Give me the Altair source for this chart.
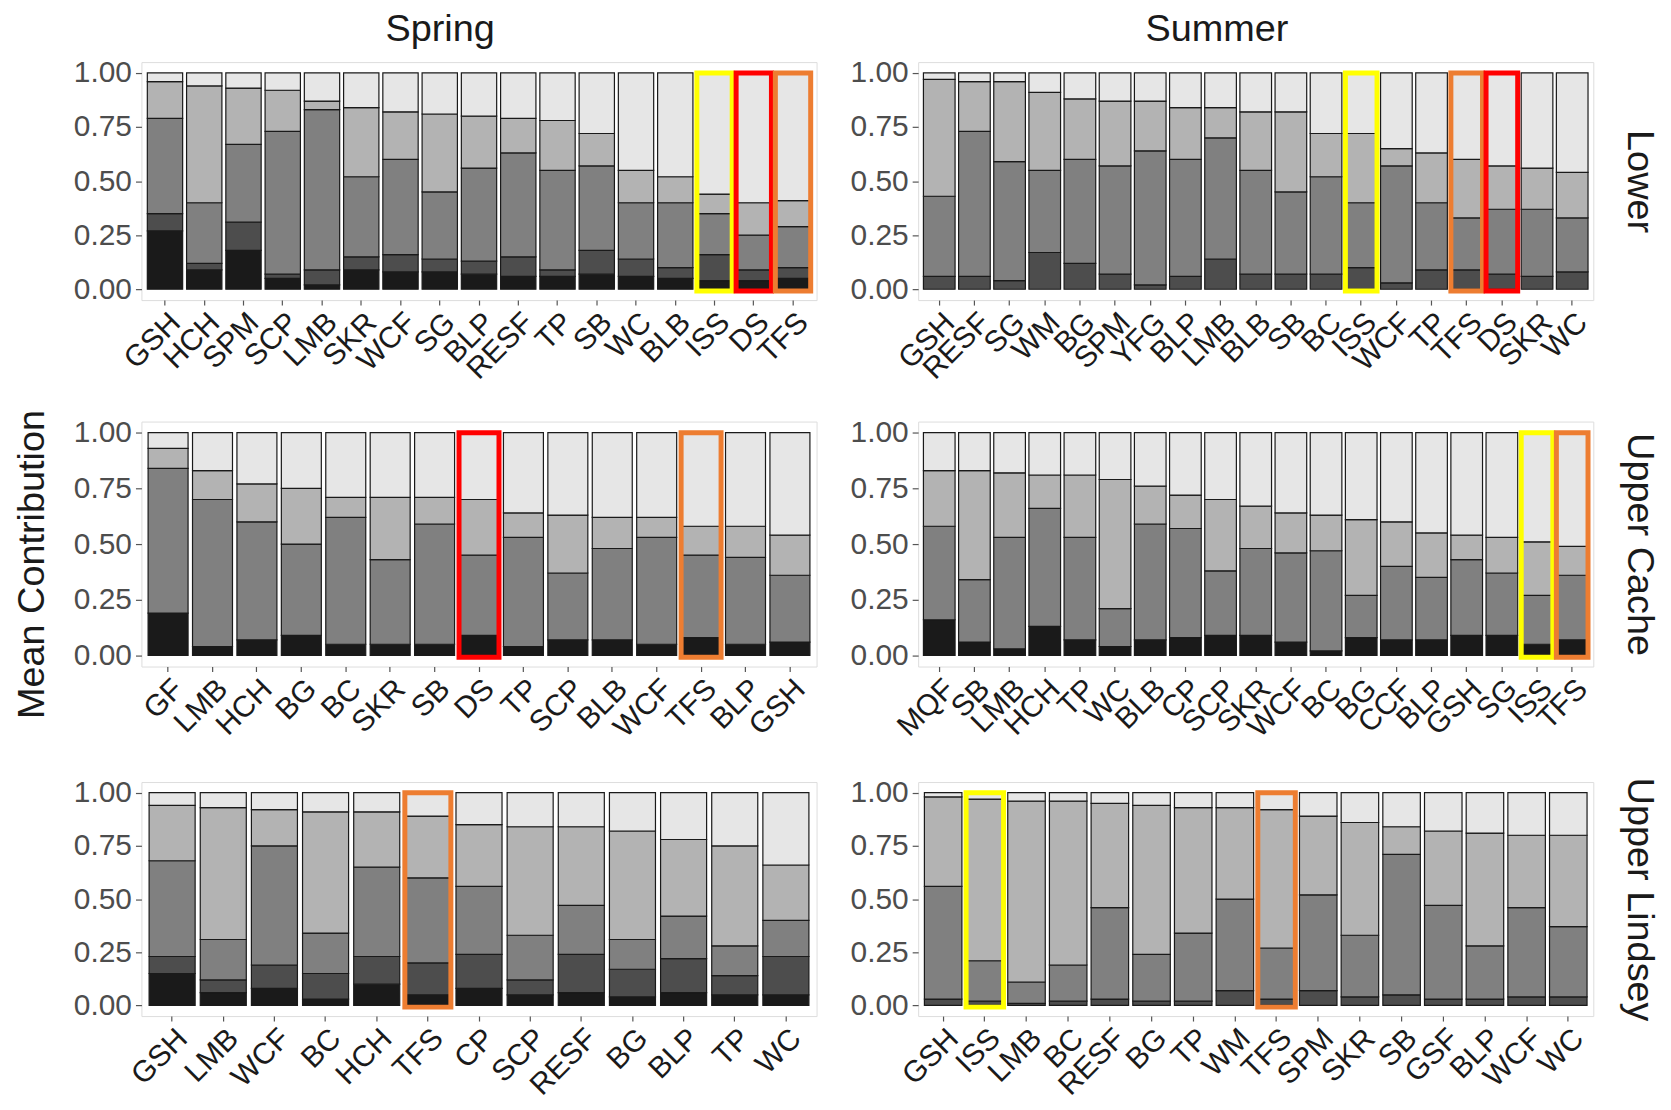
import altair as alt
import pandas as pd

CATS = ["c1", "c2", "c3", "c4", "c5"]
GRAYS = ["#1a1a1a", "#4d4d4d", "#808080", "#b3b3b3", "#e6e6e6"]

# cumulative tops of the first four stacked groups (the last group reaches 1.0)
SPRING_LOWER_NAMES = ["GSH", "HCH", "SPM", "SCP", "LMB", "SKR", "WCF", "SG", "BLP", "RESF",
                      "TP", "SB", "WC", "BLB", "ISS", "DS", "TFS"]
SPRING_LOWER_TOPS = [
    [0.27, 0.35, 0.79, 0.96], [0.09, 0.12, 0.40, 0.94], [0.18, 0.31, 0.67, 0.93],
    [0.05, 0.07, 0.73, 0.92], [0.02, 0.09, 0.83, 0.87], [0.09, 0.15, 0.52, 0.84],
    [0.08, 0.16, 0.60, 0.82], [0.08, 0.14, 0.45, 0.81], [0.07, 0.13, 0.56, 0.80],
    [0.06, 0.15, 0.63, 0.79], [0.06, 0.09, 0.55, 0.78], [0.07, 0.18, 0.57, 0.72],
    [0.06, 0.14, 0.40, 0.55], [0.05, 0.10, 0.40, 0.52], [0.04, 0.16, 0.35, 0.44],
    [0.04, 0.09, 0.25, 0.40], [0.05, 0.10, 0.29, 0.41],
]
SPRING_LOWER_HL = {"ISS": "yellow", "DS": "red", "TFS": "orange"}

SUMMER_LOWER_NAMES = ["GSH", "RESF", "SG", "WM", "BG", "SPM", "YFG", "BLP", "LMB", "BLB",
                      "SB", "BC", "ISS", "WCF", "TP", "TFS", "DS", "SKR", "WC"]
SUMMER_LOWER_TOPS = [
    [0, 0.06, 0.43, 0.97], [0, 0.06, 0.73, 0.96], [0, 0.04, 0.59, 0.96],
    [0, 0.17, 0.55, 0.91], [0, 0.12, 0.60, 0.88], [0, 0.07, 0.57, 0.87],
    [0, 0.02, 0.64, 0.87], [0, 0.06, 0.60, 0.84], [0, 0.14, 0.70, 0.84],
    [0, 0.07, 0.55, 0.82], [0, 0.07, 0.45, 0.82], [0, 0.07, 0.52, 0.72],
    [0, 0.10, 0.40, 0.72], [0, 0.03, 0.57, 0.65], [0, 0.09, 0.40, 0.63],
    [0, 0.09, 0.33, 0.60], [0, 0.07, 0.37, 0.57], [0, 0.06, 0.37, 0.56],
    [0, 0.08, 0.33, 0.54],
]
SUMMER_LOWER_HL = {"ISS": "yellow", "TFS": "orange", "DS": "red"}

SPRING_CACHE_NAMES = ["GF", "LMB", "HCH", "BG", "BC", "SKR", "SB", "DS", "TP", "SCP",
                      "BLB", "WCF", "TFS", "BLP", "GSH"]
SPRING_CACHE_TOPS = [
    [0.19, 0.19, 0.84, 0.93], [0.04, 0.04, 0.70, 0.83], [0.07, 0.07, 0.60, 0.77],
    [0.09, 0.09, 0.50, 0.75], [0.05, 0.05, 0.62, 0.71], [0.05, 0.05, 0.43, 0.71],
    [0.05, 0.05, 0.59, 0.71], [0.09, 0.09, 0.45, 0.70], [0.04, 0.04, 0.53, 0.64],
    [0.07, 0.07, 0.37, 0.63], [0.07, 0.07, 0.48, 0.62], [0.05, 0.05, 0.53, 0.62],
    [0.08, 0.08, 0.45, 0.58], [0.05, 0.05, 0.44, 0.58], [0.06, 0.06, 0.36, 0.54],
]
SPRING_CACHE_HL = {"DS": "red", "TFS": "orange"}

SUMMER_CACHE_NAMES = ["MQF", "SB", "LMB", "HCH", "TP", "WC", "BLB", "CP", "SCP", "SKR",
                      "WCF", "BC", "BG", "CCF", "BLP", "GSH", "SG", "ISS", "TFS"]
SUMMER_CACHE_TOPS = [
    [0.16, 0.16, 0.58, 0.83], [0.06, 0.06, 0.34, 0.83], [0.03, 0.03, 0.53, 0.82],
    [0.13, 0.13, 0.66, 0.81], [0.07, 0.07, 0.53, 0.81], [0.04, 0.04, 0.21, 0.79],
    [0.07, 0.07, 0.59, 0.76], [0.08, 0.08, 0.57, 0.72], [0.09, 0.09, 0.38, 0.70],
    [0.09, 0.09, 0.48, 0.67], [0.06, 0.06, 0.46, 0.64], [0.02, 0.02, 0.47, 0.63],
    [0.08, 0.08, 0.27, 0.61], [0.07, 0.07, 0.40, 0.60], [0.07, 0.07, 0.35, 0.55],
    [0.09, 0.09, 0.43, 0.54], [0.09, 0.09, 0.37, 0.53], [0.05, 0.05, 0.27, 0.51],
    [0.07, 0.07, 0.36, 0.49],
]
SUMMER_CACHE_HL = {"ISS": "yellow", "TFS": "orange"}

SPRING_LINDSEY_NAMES = ["GSH", "LMB", "WCF", "BC", "HCH", "TFS", "CP", "SCP", "RESF", "BG",
                        "BLP", "TP", "WC"]
SPRING_LINDSEY_TOPS = [
    [0.15, 0.23, 0.68, 0.94], [0.06, 0.12, 0.31, 0.93], [0.08, 0.19, 0.75, 0.92],
    [0.03, 0.15, 0.34, 0.91], [0.10, 0.23, 0.65, 0.91], [0.05, 0.20, 0.60, 0.89],
    [0.08, 0.24, 0.56, 0.85], [0.05, 0.12, 0.33, 0.84], [0.06, 0.24, 0.47, 0.84],
    [0.04, 0.17, 0.31, 0.82], [0.06, 0.22, 0.42, 0.78], [0.05, 0.14, 0.28, 0.75],
    [0.05, 0.23, 0.40, 0.66],
]
SPRING_LINDSEY_HL = {"TFS": "orange"}

SUMMER_LINDSEY_NAMES = ["GSH", "ISS", "LMB", "BC", "RESF", "BG", "TP", "WM", "TFS", "SPM",
                        "SKR", "SB", "GSF", "BLP", "WCF", "WC"]
SUMMER_LINDSEY_TOPS = [
    [0, 0.03, 0.56, 0.98], [0, 0.02, 0.21, 0.97], [0, 0.01, 0.11, 0.96],
    [0, 0.02, 0.19, 0.96], [0, 0.03, 0.46, 0.95], [0, 0.02, 0.24, 0.94],
    [0, 0.02, 0.34, 0.93], [0, 0.07, 0.50, 0.93], [0, 0.03, 0.27, 0.92],
    [0, 0.07, 0.52, 0.89], [0, 0.04, 0.33, 0.86], [0, 0.05, 0.71, 0.84],
    [0, 0.03, 0.47, 0.82], [0, 0.03, 0.28, 0.81], [0, 0.04, 0.46, 0.80],
    [0, 0.04, 0.37, 0.80],
]
SUMMER_LINDSEY_HL = {"ISS": "yellow", "TFS": "orange"}

HL_DOMAIN = ["yellow", "red", "orange"]
HL_RANGE = ["#ffff00", "#ff0000", "#ed7d31"]

FONT = "Liberation Sans"
BORDER = "#555555"
TEXT = "#1a1a1a"
W = 678
HEIGHTS = {"Lower": 239, "Upper Cache": 246, "Upper Lindsey": 235}


def panel(season, region, names, tops, hls, left, top):
    recs = []
    for name, t in zip(names, tops):
        bounds = [0.0] + list(t) + [1.0]
        for k, cat in enumerate(CATS):
            recs.append({"name": name, "cat": cat,
                         "value": round(bounds[k + 1] - bounds[k], 4),
                         "hl": hls.get(name, "")})
    pdf = pd.DataFrame(recs)
    h = HEIGHTS[region]

    x_axis = alt.Axis(labelAngle=-45, labelAlign="right", labelBaseline="top",
                      labelFontSize=30, labelColor=TEXT, labelFont=FONT,
                      labelOverlap=False, labelPadding=2, tickColor=BORDER,
                      tickSize=5, tickWidth=1.2, domain=False, grid=False)
    x_scale = alt.Scale(paddingInner=0.1, paddingOuter=0.15)
    y_scale = alt.Scale(domain=[-0.05, 1.05], nice=False, zero=False)
    y_axis_kw = dict(values=[0, 0.25, 0.5, 0.75, 1.0], format=".2f",
                     labelFontSize=30, labelColor="#4d4d4d", labelFont=FONT,
                     labelPadding=4, tickColor=BORDER, tickSize=6, tickWidth=1.2,
                     domain=False, grid=False)
    if left:
        is_mid = region == "Upper Cache"
        y_axis = alt.Axis(title="Mean Contribution" if is_mid else "M",
                          titleFontSize=38, titleFont=FONT,
                          titleFontWeight="normal", titleColor=TEXT, titlePadding=22,
                          titleLimit=600, titleY=h / 2 + 20,
                          titleOpacity=1 if is_mid else 0, **y_axis_kw)
        hl_axis = y_axis
    else:
        y_axis = alt.Axis(title=None, **y_axis_kw)
        hl_axis = alt.Axis(orient="right", title=region, labels=False, ticks=False,
                           domain=False, grid=False, titleFontSize=38, titleFont=FONT,
                           titleFontWeight="normal", titleColor=TEXT, titleAngle=90,
                           titlePadding=26, titleLimit=600)

    bars = alt.Chart().mark_bar(stroke=TEXT, strokeWidth=1.2).encode(
        x=alt.X("name:N", sort=names, title=None, scale=x_scale, axis=x_axis),
        y=alt.Y("value:Q", stack="zero", scale=y_scale, axis=y_axis),
        color=alt.Color("cat:N", scale=alt.Scale(domain=CATS, range=GRAYS), legend=None),
        order=alt.Order("cat:N", sort="ascending"),
    ).transform_filter("datum.value > 0")

    hl = alt.Chart().mark_bar(fillOpacity=0, strokeWidth=5).encode(
        x=alt.X("name:N", sort=names, title=None, scale=x_scale, axis=x_axis),
        y=alt.Y("hy0:Q", scale=y_scale, axis=hl_axis),
        y2="hy1:Q",
        stroke=alt.Stroke("hl:N", scale=alt.Scale(domain=HL_DOMAIN, range=HL_RANGE),
                          legend=None),
    ).transform_filter("datum.cat == 'c1' && datum.hl != ''").transform_calculate(
        hy0="-0.008", hy1="1.0"
    )

    ch = alt.layer(bars, hl, data=pdf).properties(width=W, height=h)
    if not left:
        ch = ch.resolve_axis(y="independent")
    if top:
        ch = ch.properties(title=alt.TitleParams(
            text=season, anchor="middle", frame="group", dx=-39, fontSize=38,
            fontWeight="normal", color=TEXT, font=FONT, offset=9))
    return ch


row1 = alt.hconcat(
    panel("Spring", "Lower", SPRING_LOWER_NAMES, SPRING_LOWER_TOPS, SPRING_LOWER_HL, True, True),
    panel("Summer", "Lower", SUMMER_LOWER_NAMES, SUMMER_LOWER_TOPS, SUMMER_LOWER_HL, False, True),
    spacing=32,
)
row2 = alt.hconcat(
    panel("Spring", "Upper Cache", SPRING_CACHE_NAMES, SPRING_CACHE_TOPS, SPRING_CACHE_HL, True, False),
    panel("Summer", "Upper Cache", SUMMER_CACHE_NAMES, SUMMER_CACHE_TOPS, SUMMER_CACHE_HL, False, False),
    spacing=32,
)
row3 = alt.hconcat(
    panel("Spring", "Upper Lindsey", SPRING_LINDSEY_NAMES, SPRING_LINDSEY_TOPS, SPRING_LINDSEY_HL, True, False),
    panel("Summer", "Upper Lindsey", SUMMER_LINDSEY_NAMES, SUMMER_LINDSEY_TOPS, SUMMER_LINDSEY_HL, False, False),
    spacing=32,
)

chart = alt.vconcat(
    alt.vconcat(row1, row2, spacing=23), row3, spacing=32
).properties(
    padding={"top": 0, "left": 5, "right": 5, "bottom": 5}
).configure_view(
    stroke=BORDER, strokeWidth=1.5
).configure(font=FONT, background="white")

chart.save("out.html", embed_options={"renderer": "svg", "actions": False})
